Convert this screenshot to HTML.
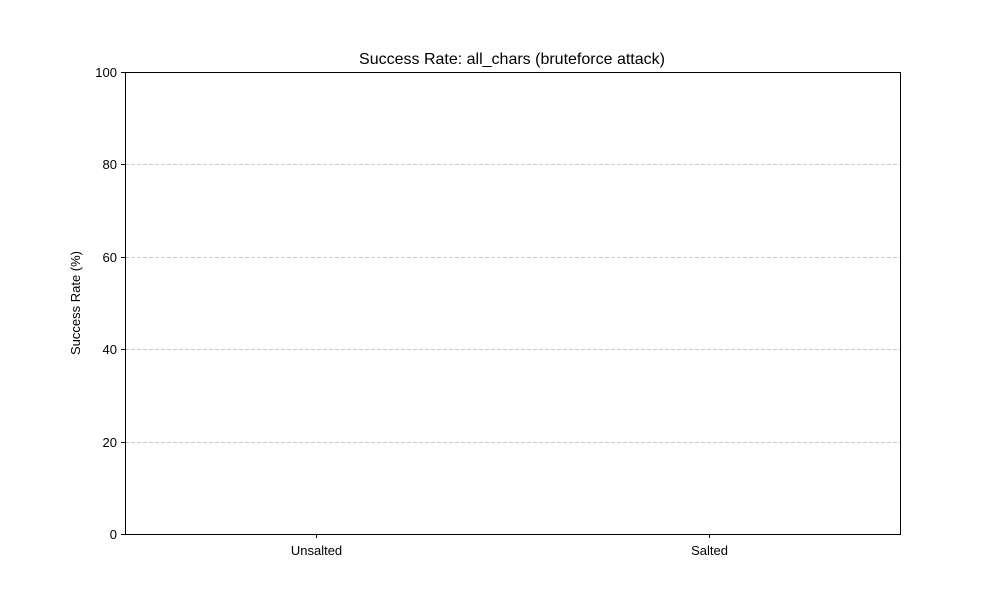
<!DOCTYPE html>
<html><head><meta charset="utf-8"><style>
body{margin:0;background:#fff;}
svg text{font-family:"Liberation Sans","DejaVu Sans",sans-serif;}
</style></head><body>
<svg id="chart" width="1000" height="600">
<rect width="1000" height="600" fill="#fff"/>
<text x="512" y="64" font-size="16" text-anchor="middle">Success Rate: all_chars (bruteforce attack)</text>
<text transform="translate(80,303) rotate(-90)" font-size="13" text-anchor="middle">Success Rate (%)</text>
<g id="grid"></g><g id="bars"></g><g id="ticks"></g>
<rect x="125.5" y="72.5" width="775" height="462" fill="none" stroke="#000" stroke-width="1"/>
</svg>
<script>
const categories=["Unsalted","Salted"];
const successValues=[0,0];
const yTicks=[0,20,40,60,80,100];
const L=125,R=900,T=72,B=534;
const xMin=-0.4875,xMax=1.4875;
function xs(v){return L+(v-xMin)/(xMax-xMin)*(R-L);}
function ys(v){return B-v/100*(B-T);}
const NS="http://www.w3.org/2000/svg";
function mk(t,a,p){const e=document.createElementNS(NS,t);for(const k in a)e.setAttribute(k,a[k]);p.appendChild(e);return e;}
const grid=document.getElementById('grid'),ticks=document.getElementById('ticks'),bars=document.getElementById('bars');
yTicks.forEach(v=>{
 const y=Math.round(ys(v))+0.5;
 if(v>0&&v<100){const g=mk('line',{x1:L,x2:R,y1:y,y2:y,stroke:'#c8c8c8','stroke-dasharray':'4,2','stroke-width':1},grid);
 
 }
 const t=mk('line',{x1:L-4,x2:L,y1:y,y2:y,stroke:'#000'},ticks);
 
 
 const l=mk('text',{x:L-8,y:y+4.5,'font-size':13,'text-anchor':'end'},ticks);l.textContent=v;
 
 
});
categories.forEach((c,i)=>{
 const x=Math.round(xs(i))+0.5;
 const w=xs(0.4)-xs(0);
 const b=mk('rect',{x:xs(i)-w,width:2*w,y:ys(successValues[i]),height:ys(0)-ys(successValues[i]),fill:'#1f77b4'},bars);
 
 
 const t=mk('line',{x1:x,x2:x,y1:B,y2:B+4,stroke:'#000'},ticks);
 
 
 const l=mk('text',{x:x,y:B+21,'font-size':13,'text-anchor':'middle'},ticks);l.textContent=c;
 
 
});
</script>
</body></html>
